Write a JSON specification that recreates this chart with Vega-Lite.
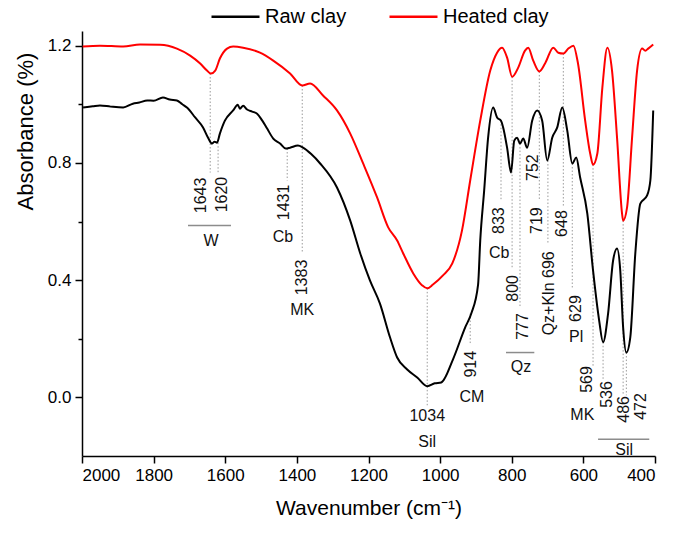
{
  "$schema": "https://vega.github.io/schema/vega-lite/v6.json",
  "autosize": "none",
  "width": 573,
  "height": 425,
  "padding": {"left": 82, "top": 31, "right": 23, "bottom": 80},
  "background": "white",
  "config": {
    "view": {"stroke": null},
    "font": "Liberation Sans",
    "axis": {"grid": false, "domainColor": "#000", "domainWidth": 1.5, "tickColor": "#000", "tickWidth": 1.5, "labelColor": "#000", "titleColor": "#000", "labelFont": "Liberation Sans", "titleFont": "Liberation Sans"}
  },
  "datasets": {
    "spectra": [
      {"wavenumber": 1998, "absorbance": 1.197, "sample": "Heated clay"},
      {"wavenumber": 1950, "absorbance": 1.200, "sample": "Heated clay"},
      {"wavenumber": 1885, "absorbance": 1.197, "sample": "Heated clay"},
      {"wavenumber": 1838, "absorbance": 1.204, "sample": "Heated clay"},
      {"wavenumber": 1782, "absorbance": 1.203, "sample": "Heated clay"},
      {"wavenumber": 1735, "absorbance": 1.190, "sample": "Heated clay"},
      {"wavenumber": 1698, "absorbance": 1.166, "sample": "Heated clay"},
      {"wavenumber": 1670, "absorbance": 1.139, "sample": "Heated clay"},
      {"wavenumber": 1651, "absorbance": 1.115, "sample": "Heated clay"},
      {"wavenumber": 1640, "absorbance": 1.105, "sample": "Heated clay"},
      {"wavenumber": 1628, "absorbance": 1.115, "sample": "Heated clay"},
      {"wavenumber": 1615, "absorbance": 1.156, "sample": "Heated clay"},
      {"wavenumber": 1595, "absorbance": 1.190, "sample": "Heated clay"},
      {"wavenumber": 1578, "absorbance": 1.197, "sample": "Heated clay"},
      {"wavenumber": 1550, "absorbance": 1.193, "sample": "Heated clay"},
      {"wavenumber": 1503, "absorbance": 1.176, "sample": "Heated clay"},
      {"wavenumber": 1466, "absorbance": 1.149, "sample": "Heated clay"},
      {"wavenumber": 1419, "absorbance": 1.105, "sample": "Heated clay"},
      {"wavenumber": 1385, "absorbance": 1.064, "sample": "Heated clay"},
      {"wavenumber": 1363, "absorbance": 1.071, "sample": "Heated clay"},
      {"wavenumber": 1327, "absorbance": 1.030, "sample": "Heated clay"},
      {"wavenumber": 1288, "absorbance": 0.979, "sample": "Heated clay"},
      {"wavenumber": 1251, "absorbance": 0.900, "sample": "Heated clay"},
      {"wavenumber": 1215, "absorbance": 0.798, "sample": "Heated clay"},
      {"wavenumber": 1176, "absorbance": 0.682, "sample": "Heated clay"},
      {"wavenumber": 1145, "absorbance": 0.580, "sample": "Heated clay"},
      {"wavenumber": 1120, "absorbance": 0.535, "sample": "Heated clay"},
      {"wavenumber": 1103, "absorbance": 0.491, "sample": "Heated clay"},
      {"wavenumber": 1075, "absorbance": 0.423, "sample": "Heated clay"},
      {"wavenumber": 1050, "absorbance": 0.382, "sample": "Heated clay"},
      {"wavenumber": 1036, "absorbance": 0.372, "sample": "Heated clay"},
      {"wavenumber": 1020, "absorbance": 0.385, "sample": "Heated clay"},
      {"wavenumber": 992, "absorbance": 0.416, "sample": "Heated clay"},
      {"wavenumber": 966, "absorbance": 0.457, "sample": "Heated clay"},
      {"wavenumber": 939, "absorbance": 0.569, "sample": "Heated clay"},
      {"wavenumber": 916, "absorbance": 0.740, "sample": "Heated clay"},
      {"wavenumber": 888, "absorbance": 0.944, "sample": "Heated clay"},
      {"wavenumber": 860, "absorbance": 1.115, "sample": "Heated clay"},
      {"wavenumber": 841, "absorbance": 1.176, "sample": "Heated clay"},
      {"wavenumber": 827, "absorbance": 1.193, "sample": "Heated clay"},
      {"wavenumber": 813, "absorbance": 1.159, "sample": "Heated clay"},
      {"wavenumber": 799, "absorbance": 1.094, "sample": "Heated clay"},
      {"wavenumber": 782, "absorbance": 1.125, "sample": "Heated clay"},
      {"wavenumber": 763, "absorbance": 1.183, "sample": "Heated clay"},
      {"wavenumber": 754, "absorbance": 1.193, "sample": "Heated clay"},
      {"wavenumber": 740, "absorbance": 1.149, "sample": "Heated clay"},
      {"wavenumber": 723, "absorbance": 1.112, "sample": "Heated clay"},
      {"wavenumber": 707, "absorbance": 1.139, "sample": "Heated clay"},
      {"wavenumber": 684, "absorbance": 1.193, "sample": "Heated clay"},
      {"wavenumber": 670, "absorbance": 1.176, "sample": "Heated clay"},
      {"wavenumber": 656, "absorbance": 1.173, "sample": "Heated clay"},
      {"wavenumber": 642, "absorbance": 1.190, "sample": "Heated clay"},
      {"wavenumber": 628, "absorbance": 1.200, "sample": "Heated clay"},
      {"wavenumber": 615, "absorbance": 1.139, "sample": "Heated clay"},
      {"wavenumber": 595, "absorbance": 0.944, "sample": "Heated clay"},
      {"wavenumber": 581, "absorbance": 0.832, "sample": "Heated clay"},
      {"wavenumber": 573, "absorbance": 0.794, "sample": "Heated clay"},
      {"wavenumber": 561, "absorbance": 0.832, "sample": "Heated clay"},
      {"wavenumber": 547, "absorbance": 1.057, "sample": "Heated clay"},
      {"wavenumber": 533, "absorbance": 1.193, "sample": "Heated clay"},
      {"wavenumber": 520, "absorbance": 1.115, "sample": "Heated clay"},
      {"wavenumber": 506, "absorbance": 0.886, "sample": "Heated clay"},
      {"wavenumber": 492, "absorbance": 0.627, "sample": "Heated clay"},
      {"wavenumber": 489, "absorbance": 0.603, "sample": "Heated clay"},
      {"wavenumber": 478, "absorbance": 0.648, "sample": "Heated clay"},
      {"wavenumber": 464, "absorbance": 0.886, "sample": "Heated clay"},
      {"wavenumber": 450, "absorbance": 1.115, "sample": "Heated clay"},
      {"wavenumber": 436, "absorbance": 1.190, "sample": "Heated clay"},
      {"wavenumber": 427, "absorbance": 1.183, "sample": "Heated clay"},
      {"wavenumber": 419, "absorbance": 1.190, "sample": "Heated clay"},
      {"wavenumber": 405, "absorbance": 1.204, "sample": "Heated clay"},

      {"wavenumber": 1997, "absorbance": 0.989, "sample": "Raw clay"},
      {"wavenumber": 1970, "absorbance": 0.993, "sample": "Raw clay"},
      {"wavenumber": 1950, "absorbance": 0.996, "sample": "Raw clay"},
      {"wavenumber": 1920, "absorbance": 0.992, "sample": "Raw clay"},
      {"wavenumber": 1885, "absorbance": 0.989, "sample": "Raw clay"},
      {"wavenumber": 1858, "absorbance": 1.002, "sample": "Raw clay"},
      {"wavenumber": 1840, "absorbance": 1.006, "sample": "Raw clay"},
      {"wavenumber": 1818, "absorbance": 1.013, "sample": "Raw clay"},
      {"wavenumber": 1800, "absorbance": 1.012, "sample": "Raw clay"},
      {"wavenumber": 1774, "absorbance": 1.023, "sample": "Raw clay"},
      {"wavenumber": 1755, "absorbance": 1.016, "sample": "Raw clay"},
      {"wavenumber": 1735, "absorbance": 1.013, "sample": "Raw clay"},
      {"wavenumber": 1720, "absorbance": 1.000, "sample": "Raw clay"},
      {"wavenumber": 1707, "absorbance": 0.989, "sample": "Raw clay"},
      {"wavenumber": 1684, "absorbance": 0.955, "sample": "Raw clay"},
      {"wavenumber": 1662, "absorbance": 0.921, "sample": "Raw clay"},
      {"wavenumber": 1648, "absorbance": 0.886, "sample": "Raw clay"},
      {"wavenumber": 1637, "absorbance": 0.866, "sample": "Raw clay"},
      {"wavenumber": 1630, "absorbance": 0.872, "sample": "Raw clay"},
      {"wavenumber": 1623, "absorbance": 0.869, "sample": "Raw clay"},
      {"wavenumber": 1615, "absorbance": 0.900, "sample": "Raw clay"},
      {"wavenumber": 1601, "absorbance": 0.944, "sample": "Raw clay"},
      {"wavenumber": 1578, "absorbance": 0.979, "sample": "Raw clay"},
      {"wavenumber": 1565, "absorbance": 0.998, "sample": "Raw clay"},
      {"wavenumber": 1559, "absorbance": 0.985, "sample": "Raw clay"},
      {"wavenumber": 1550, "absorbance": 0.995, "sample": "Raw clay"},
      {"wavenumber": 1539, "absorbance": 0.982, "sample": "Raw clay"},
      {"wavenumber": 1525, "absorbance": 0.975, "sample": "Raw clay"},
      {"wavenumber": 1511, "absorbance": 0.968, "sample": "Raw clay"},
      {"wavenumber": 1497, "absorbance": 0.945, "sample": "Raw clay"},
      {"wavenumber": 1483, "absorbance": 0.917, "sample": "Raw clay"},
      {"wavenumber": 1466, "absorbance": 0.883, "sample": "Raw clay"},
      {"wavenumber": 1447, "absorbance": 0.866, "sample": "Raw clay"},
      {"wavenumber": 1431, "absorbance": 0.849, "sample": "Raw clay"},
      {"wavenumber": 1419, "absorbance": 0.852, "sample": "Raw clay"},
      {"wavenumber": 1397, "absorbance": 0.859, "sample": "Raw clay"},
      {"wavenumber": 1383, "absorbance": 0.852, "sample": "Raw clay"},
      {"wavenumber": 1360, "absorbance": 0.830, "sample": "Raw clay"},
      {"wavenumber": 1335, "absorbance": 0.798, "sample": "Raw clay"},
      {"wavenumber": 1288, "absorbance": 0.716, "sample": "Raw clay"},
      {"wavenumber": 1251, "absorbance": 0.603, "sample": "Raw clay"},
      {"wavenumber": 1223, "absorbance": 0.491, "sample": "Raw clay"},
      {"wavenumber": 1196, "absorbance": 0.399, "sample": "Raw clay"},
      {"wavenumber": 1168, "absorbance": 0.320, "sample": "Raw clay"},
      {"wavenumber": 1140, "absorbance": 0.205, "sample": "Raw clay"},
      {"wavenumber": 1120, "absorbance": 0.136, "sample": "Raw clay"},
      {"wavenumber": 1092, "absorbance": 0.095, "sample": "Raw clay"},
      {"wavenumber": 1064, "absorbance": 0.068, "sample": "Raw clay"},
      {"wavenumber": 1036, "absorbance": 0.038, "sample": "Raw clay"},
      {"wavenumber": 1015, "absorbance": 0.048, "sample": "Raw clay"},
      {"wavenumber": 997, "absorbance": 0.051, "sample": "Raw clay"},
      {"wavenumber": 964, "absorbance": 0.130, "sample": "Raw clay"},
      {"wavenumber": 930, "absorbance": 0.239, "sample": "Raw clay"},
      {"wavenumber": 913, "absorbance": 0.286, "sample": "Raw clay"},
      {"wavenumber": 894, "absorbance": 0.385, "sample": "Raw clay"},
      {"wavenumber": 888, "absorbance": 0.535, "sample": "Raw clay"},
      {"wavenumber": 877, "absorbance": 0.706, "sample": "Raw clay"},
      {"wavenumber": 866, "absorbance": 0.886, "sample": "Raw clay"},
      {"wavenumber": 852, "absorbance": 0.989, "sample": "Raw clay"},
      {"wavenumber": 841, "absorbance": 0.955, "sample": "Raw clay"},
      {"wavenumber": 830, "absorbance": 0.944, "sample": "Raw clay"},
      {"wavenumber": 824, "absorbance": 0.921, "sample": "Raw clay"},
      {"wavenumber": 813, "absorbance": 0.852, "sample": "Raw clay"},
      {"wavenumber": 802, "absorbance": 0.767, "sample": "Raw clay"},
      {"wavenumber": 793, "absorbance": 0.876, "sample": "Raw clay"},
      {"wavenumber": 785, "absorbance": 0.886, "sample": "Raw clay"},
      {"wavenumber": 777, "absorbance": 0.866, "sample": "Raw clay"},
      {"wavenumber": 768, "absorbance": 0.883, "sample": "Raw clay"},
      {"wavenumber": 757, "absorbance": 0.852, "sample": "Raw clay"},
      {"wavenumber": 743, "absorbance": 0.944, "sample": "Raw clay"},
      {"wavenumber": 729, "absorbance": 0.979, "sample": "Raw clay"},
      {"wavenumber": 715, "absorbance": 0.944, "sample": "Raw clay"},
      {"wavenumber": 701, "absorbance": 0.808, "sample": "Raw clay"},
      {"wavenumber": 687, "absorbance": 0.886, "sample": "Raw clay"},
      {"wavenumber": 673, "absorbance": 0.921, "sample": "Raw clay"},
      {"wavenumber": 659, "absorbance": 0.989, "sample": "Raw clay"},
      {"wavenumber": 645, "absorbance": 0.910, "sample": "Raw clay"},
      {"wavenumber": 631, "absorbance": 0.798, "sample": "Raw clay"},
      {"wavenumber": 620, "absorbance": 0.818, "sample": "Raw clay"},
      {"wavenumber": 609, "absorbance": 0.750, "sample": "Raw clay"},
      {"wavenumber": 589, "absorbance": 0.627, "sample": "Raw clay"},
      {"wavenumber": 573, "absorbance": 0.433, "sample": "Raw clay"},
      {"wavenumber": 556, "absorbance": 0.263, "sample": "Raw clay"},
      {"wavenumber": 545, "absorbance": 0.188, "sample": "Raw clay"},
      {"wavenumber": 531, "absorbance": 0.286, "sample": "Raw clay"},
      {"wavenumber": 517, "absorbance": 0.467, "sample": "Raw clay"},
      {"wavenumber": 506, "absorbance": 0.508, "sample": "Raw clay"},
      {"wavenumber": 497, "absorbance": 0.433, "sample": "Raw clay"},
      {"wavenumber": 489, "absorbance": 0.239, "sample": "Raw clay"},
      {"wavenumber": 480, "absorbance": 0.153, "sample": "Raw clay"},
      {"wavenumber": 469, "absorbance": 0.205, "sample": "Raw clay"},
      {"wavenumber": 455, "absorbance": 0.491, "sample": "Raw clay"},
      {"wavenumber": 441, "absorbance": 0.661, "sample": "Raw clay"},
      {"wavenumber": 422, "absorbance": 0.689, "sample": "Raw clay"},
      {"wavenumber": 413, "absorbance": 0.740, "sample": "Raw clay"},
      {"wavenumber": 405, "absorbance": 0.979, "sample": "Raw clay"}
    ],
    "peaks": [
      {"wn": 1642, "top": 1.105, "bottom": 0.767},
      {"wn": 1620, "top": 0.869, "bottom": 0.767},
      {"wn": 1427, "top": 0.849, "bottom": 0.740},
      {"wn": 1385, "top": 1.064, "bottom": 0.491},
      {"wn": 1036, "top": 0.372, "bottom": -0.027},
      {"wn": 916, "top": 0.286, "bottom": 0.184},
      {"wn": 830, "top": 0.944, "bottom": 0.672},
      {"wn": 799, "top": 1.094, "bottom": 0.443},
      {"wn": 777, "top": 0.866, "bottom": 0.307},
      {"wn": 723, "top": 1.112, "bottom": 0.672},
      {"wn": 699, "top": 0.808, "bottom": 0.528},
      {"wn": 656, "top": 1.173, "bottom": 0.648},
      {"wn": 631, "top": 0.798, "bottom": 0.375},
      {"wn": 573, "top": 0.794, "bottom": 0.102},
      {"wn": 545, "top": 0.188, "bottom": 0.058},
      {"wn": 489, "top": 0.603, "bottom": 0.007},
      {"wn": 480, "top": 0.153, "bottom": 0.007}
    ],
    "brackets": [
      {"from": 1704, "to": 1584, "ab": 0.586},
      {"from": 816, "to": 737, "ab": 0.153},
      {"from": 559, "to": 416, "ab": -0.143}
    ],
    "vlabels": [
      {"text": "1643", "wn": 1668, "ab": 0.689},
      {"text": "1620", "wn": 1609, "ab": 0.692},
      {"text": "1431", "wn": 1436, "ab": 0.665},
      {"text": "1383", "wn": 1385, "ab": 0.409},
      {"text": "914", "wn": 913, "ab": 0.113},
      {"text": "833", "wn": 835, "ab": 0.603},
      {"text": "800", "wn": 796, "ab": 0.372},
      {"text": "777", "wn": 768, "ab": 0.242},
      {"text": "752", "wn": 740, "ab": 0.784},
      {"text": "719", "wn": 729, "ab": 0.603},
      {"text": "Qz+Kln 696", "wn": 696, "ab": 0.355},
      {"text": "648", "wn": 659, "ab": 0.593},
      {"text": "629", "wn": 620, "ab": 0.303},
      {"text": "569", "wn": 589, "ab": 0.061},
      {"text": "536", "wn": 533, "ab": 0.010},
      {"text": "486", "wn": 486, "ab": -0.041},
      {"text": "472", "wn": 439, "ab": -0.031}
    ],
    "hlabels": [
      {"text": "W", "wn": 1640, "ab": 0.535},
      {"text": "Cb", "wn": 1439, "ab": 0.546},
      {"text": "MK", "wn": 1385, "ab": 0.297},
      {"text": "1034", "wn": 1036, "ab": -0.065},
      {"text": "Sil", "wn": 1036, "ab": -0.153},
      {"text": "CM", "wn": 911, "ab": 0.0},
      {"text": "Cb", "wn": 835, "ab": 0.491},
      {"text": "Qz", "wn": 774, "ab": 0.102},
      {"text": "Pl", "wn": 620, "ab": 0.205},
      {"text": "MK", "wn": 603, "ab": -0.061},
      {"text": "Sil", "wn": 486, "ab": -0.181}
    ]
  },
  "layer": [
    {
      "data": {"name": "peaks"},
      "mark": {"type": "rule", "color": "#9a9a9a", "strokeWidth": 1, "strokeDash": [1.5, 2]},
      "encoding": {
        "x": {"field": "wn", "type": "quantitative", "scale": {"domain": [400, 2000], "reverse": true, "nice": false, "zero": false}},
        "y": {"field": "top", "type": "quantitative", "scale": {"domain": [-0.2, 1.25], "nice": false, "zero": false}},
        "y2": {"field": "bottom"}
      }
    },
    {
      "data": {"name": "brackets"},
      "mark": {"type": "rule", "color": "#8c8c8c", "strokeWidth": 1.5},
      "encoding": {
        "x": {"field": "from", "type": "quantitative"},
        "x2": {"field": "to"},
        "y": {"field": "ab", "type": "quantitative"}
      }
    },
    {
      "data": {"name": "spectra"},
      "mark": {"type": "line", "strokeWidth": 2, "interpolate": "monotone"},
      "encoding": {
        "x": {
          "field": "wavenumber", "type": "quantitative",
          "axis": {
            "values": [2000, 1900, 1800, 1700, 1600, 1500, 1400, 1300, 1200, 1100, 1000, 900, 800, 700, 600, 500, 400],
            "labelExpr": "datum.value % 200 === 0 ? datum.label : ''",
            "format": "d",
            "tickSize": {"condition": {"test": "datum.value % 200 === 0", "value": 7}, "value": 4},
            "labelFontSize": 17,
            "labelPadding": 4,
            "title": "Wavenumber (cm⁻¹)",
            "titleFontSize": 21,
            "titleFontWeight": "normal",
            "titlePadding": 14
          }
        },
        "y": {
          "field": "absorbance", "type": "quantitative",
          "axis": {
            "values": [0, 0.2, 0.4, 0.6, 0.8, 1.0, 1.2],
            "labelExpr": "round(datum.value * 10) % 4 === 0 ? format(datum.value, '.1f') : ''",
            "tickSize": {"condition": {"test": "round(datum.value * 10) % 4 === 0", "value": 7}, "value": 4},
            "labelFontSize": 17,
            "labelPadding": 4,
            "title": "Absorbance (%)",
            "titleFontSize": 22,
            "titleFontWeight": "normal",
            "titleX": -57,
            "titleY": 100,
            "titleAngle": 270,
            "titleAlign": "center",
            "titleBaseline": "middle"
          }
        },
        "color": {
          "field": "sample", "type": "nominal",
          "scale": {"domain": ["Raw clay", "Heated clay"], "range": ["#000000", "#ff0000"]},
          "legend": {
            "orient": "none", "direction": "horizontal", "legendX": 128, "legendY": -40,
            "title": null, "symbolType": "stroke", "symbolSize": 2304, "symbolStrokeWidth": 2.5,
            "labelFontSize": 20, "labelFont": "Liberation Sans", "labelColor": "#000", "labelOffset": 4, "columnPadding": 37
          }
        }
      }
    },
    {
      "data": {"name": "vlabels"},
      "mark": {"type": "text", "angle": 270, "align": "center", "baseline": "middle", "fontSize": 16, "font": "Liberation Sans", "color": "#111"},
      "encoding": {
        "x": {"field": "wn", "type": "quantitative"},
        "y": {"field": "ab", "type": "quantitative"},
        "text": {"field": "text"}
      }
    },
    {
      "data": {"name": "hlabels"},
      "mark": {"type": "text", "align": "center", "baseline": "middle", "fontSize": 16, "font": "Liberation Sans", "color": "#111"},
      "encoding": {
        "x": {"field": "wn", "type": "quantitative"},
        "y": {"field": "ab", "type": "quantitative"},
        "text": {"field": "text"}
      }
    }
  ]
}
